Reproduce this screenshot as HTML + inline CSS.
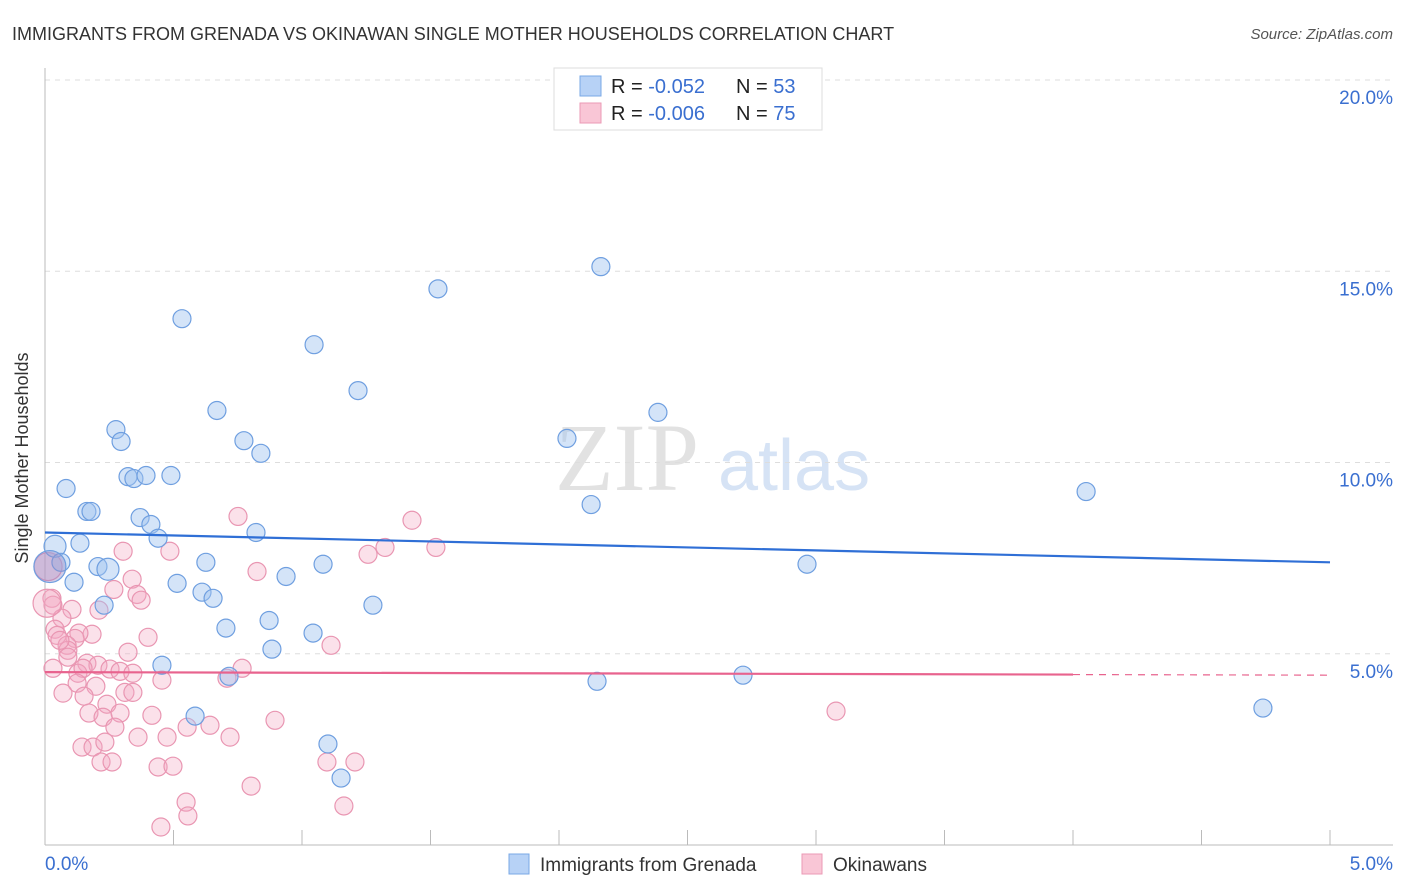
<!DOCTYPE html>
<html><head><meta charset="utf-8"><style>
body{margin:0;background:#fff;font-family:"Liberation Sans",sans-serif;}
svg{display:block}
</style></head><body>
<svg width="1406" height="892" xmlns="http://www.w3.org/2000/svg">
<text x="12" y="40" font-size="18" fill="#333">IMMIGRANTS FROM GRENADA VS OKINAWAN SINGLE MOTHER HOUSEHOLDS CORRELATION CHART</text>
<text x="1393" y="39" font-size="15" fill="#555" font-style="italic" text-anchor="end">Source: ZipAtlas.com</text>
<g>
<text x="555" y="490" font-family="Liberation Serif,serif" font-size="96" fill="#e2e2e2">ZIP</text>
<text x="718" y="490" font-size="72" fill="#d6e3f5">atlas</text>
</g>
<g id="grid"></g>
<g id="axes"></g>
<g id="pts"></g>
<g id="trend"></g>
<text x="28" y="458" font-size="18" fill="#333" text-anchor="middle" transform="rotate(-90 28 458)">Single Mother Households</text>
<g>
<rect x="554" y="68" width="268" height="62" fill="#fff" stroke="#ddd"/>
<rect x="580" y="76" width="21" height="20" fill="#b7d2f6" stroke="#7aa8e6"/>
<rect x="580" y="103" width="21" height="20" fill="#f9c6d6" stroke="#eb9ab5"/>
<text x="611" y="93" font-size="20" fill="#222">R = <tspan fill="#3a6fd0">-0.052</tspan><tspan x="736">N = </tspan><tspan fill="#3a6fd0">53</tspan></text>
<text x="611" y="120" font-size="20" fill="#222">R = <tspan fill="#3a6fd0">-0.006</tspan><tspan x="736">N = </tspan><tspan fill="#3a6fd0">75</tspan></text>
</g>
<g>
<rect x="509" y="854" width="20" height="20" fill="#b7d2f6" stroke="#7aa8e6"/>
<text x="540" y="871" font-size="19" fill="#333">Immigrants from Grenada</text>
<rect x="802" y="854" width="20" height="20" fill="#f9c6d6" stroke="#eb9ab5"/>
<text x="833" y="871" font-size="19" fill="#333">Okinawans</text>
</g>
</svg>
<script>
const blueX=[2.163,1.529,0.533,1.047,1.218,0.669,2.385,0.276,0.296,0.774,2.031,0.840,0.323,0.346,0.393,0.490,0.082,4.051,0.163,0.179,2.125,0.370,0.412,0.821,0.440,0.136,0.039,0.626,1.082,2.965,0.062,0.206,0.245,0.938,0.113,0.514,0.611,0.654,0.230,1.276,0.872,0.704,1.043,0.883,0.455,0.716,2.148,2.716,0.584,1.101,1.152,4.739,0.019];
const blueY=[15.12,14.54,13.76,13.08,11.88,11.36,11.31,10.86,10.55,10.57,10.63,10.24,9.63,9.58,9.66,9.66,9.32,9.24,8.72,8.72,8.90,8.56,8.38,8.17,8.02,7.89,7.81,7.39,7.34,7.34,7.39,7.28,7.21,7.02,6.87,6.84,6.61,6.45,6.27,6.27,5.87,5.67,5.54,5.12,4.70,4.41,4.28,4.44,3.37,2.64,1.75,3.58,7.28];
const pinkX=[0.304,0.486,0.825,0.339,0.268,0.358,0.374,0.027,0.031,0.105,0.210,0.066,0.401,0.183,0.132,0.039,0.047,0.117,0.086,0.089,1.113,0.323,0.089,0.031,0.163,0.206,0.253,0.292,0.342,0.128,0.148,0.455,0.708,0.767,0.125,0.198,0.070,0.152,0.311,0.342,0.241,0.171,0.226,0.292,0.272,0.416,0.362,0.475,0.553,0.642,0.720,0.895,0.144,0.187,0.233,0.218,0.261,0.440,0.498,0.802,0.549,0.556,0.451,1.097,1.206,1.163,0.751,1.428,1.521,1.257,1.323,3.078,0.008,0.012,0.058];
const pinkY=[7.68,7.68,7.15,6.95,6.68,6.55,6.40,6.45,6.27,6.16,6.14,5.93,5.43,5.51,5.54,5.64,5.48,5.40,5.22,5.09,5.22,5.04,4.91,4.62,4.75,4.70,4.60,4.54,4.49,4.49,4.62,4.31,4.36,4.62,4.23,4.15,3.97,3.89,3.99,3.99,3.68,3.45,3.34,3.45,3.08,3.39,2.82,2.82,3.08,3.13,2.82,3.26,2.56,2.56,2.69,2.17,2.17,2.04,2.06,1.54,1.12,0.76,0.47,2.17,2.17,1.02,8.59,8.49,7.78,7.60,7.78,3.50,6.32,7.28,5.35];
const blueTrend=[8.17,7.39];
const pinkTrend=[4.52,4.44];
const yTicks=[5,10,15,20];
const yTickLabels=["5.0%","10.0%","15.0%","20.0%"];
const NS="http://www.w3.org/2000/svg";
const X0=45,X1=1330,Y0=845,Y20=80;
const sx=v=>X0+(v/5)*(X1-X0);
const sy=v=>Y0-(v/20)*(Y0-Y20);
function mk(t,a,p){const e=document.createElementNS(NS,t);for(const k in a)e.setAttribute(k,a[k]);p.appendChild(e);return e;}
const grid=document.getElementById('grid'),axes=document.getElementById('axes'),pts=document.getElementById('pts'),tr=document.getElementById('trend');
yTicks.forEach((v,i)=>{
 const l=mk('line',{x1:X0,x2:1393,y1:sy(v),y2:sy(v),stroke:'#ddd','stroke-dasharray':'5,5'},grid);
 
 
 const t=mk('text',{x:1393,y:sy(v)+24,'font-size':19,fill:'#3a6fd0','text-anchor':'end'},axes);
 t.textContent=yTickLabels[i];
 
 
});
const la=mk('line',{x1:X0,x2:X0,y1:68,y2:Y0,stroke:'#bbb'},axes);


const lb=mk('line',{x1:X0,x2:1393,y1:Y0,y2:Y0,stroke:'#bbb'},axes);


for(let i=0;i<=10;i++){
 const tk=mk('line',{x1:sx(i*0.5),x2:sx(i*0.5),y1:830,y2:Y0,stroke:'#bbb'},axes);
 
 
}
const xl0=mk('text',{x:45,y:870,'font-size':19,fill:'#3a6fd0'},axes);xl0.textContent='0.0%';


const xl1=mk('text',{x:1393,y:870,'font-size':19,fill:'#3a6fd0','text-anchor':'end'},axes);xl1.textContent='5.0%';


pinkX.forEach((v,i)=>{
 const big=i>=72&&i<=73;
 const c=mk('circle',{cx:sx(v),cy:sy(pinkY[i]),r:big?14:9,fill:'rgba(244,170,195,0.35)',stroke:'#e996b2','stroke-width':1.2},pts);
 
 
});
blueX.forEach((v,i)=>{
 const big=(i===52||i===26);
 const c=mk('circle',{cx:sx(v),cy:sy(blueY[i]),r:i===52?16:(big||i===32?11:9),fill:big&&i===52?'rgba(150,140,200,0.45)':'rgba(160,196,240,0.45)',stroke:'#6f9fe0','stroke-width':1.2},pts);
 
 
});
const bt=mk('line',{x1:sx(0),y1:sy(blueTrend[0]),x2:sx(5),y2:sy(blueTrend[1]),stroke:'#2f6fd6','stroke-width':2.2},tr);


const pm=pinkTrend[0]+(pinkTrend[1]-pinkTrend[0])*0.8;
const pt=mk('line',{x1:sx(0),y1:sy(pinkTrend[0]),x2:sx(4),y2:sy(pm),stroke:'#e8638e','stroke-width':2.2},tr);


const pd=mk('line',{x1:sx(4),y1:sy(pm),x2:sx(5),y2:sy(pinkTrend[1]),stroke:'#e8638e','stroke-width':1.2,'stroke-dasharray':'7,6'},tr);


</script>
</body></html>
